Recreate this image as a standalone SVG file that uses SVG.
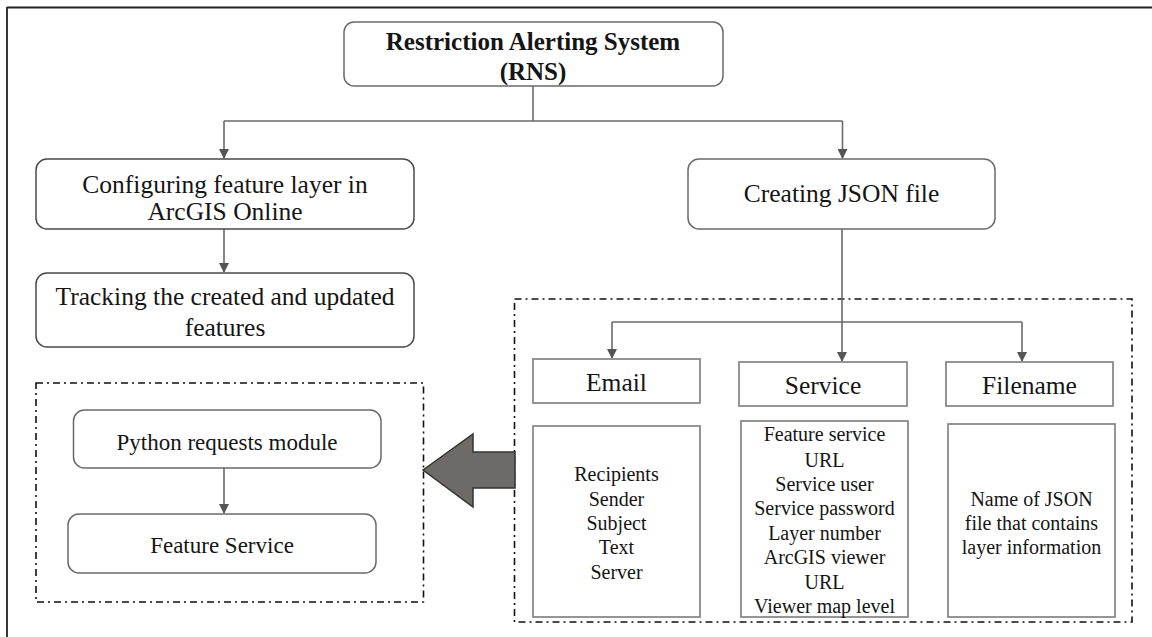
<svg xmlns="http://www.w3.org/2000/svg" width="1152" height="637" viewBox="0 0 1152 637">
<style>
.t{font-family:"Liberation Serif","Times New Roman",serif;fill:#151515;text-anchor:middle}
.big{font-size:25.5px}
.mid{font-size:23px}
.sm{font-size:20px}
.b{font-weight:bold;font-size:25px}
.rb{fill:#fff;stroke:#4a4a4a;stroke-width:1.5}
.rg{fill:#fff;stroke:#6a6a6a;stroke-width:1.5}
.sq{fill:#fff;stroke:#8a8a8a;stroke-width:1.8}
.dd{fill:none;stroke:#111;stroke-width:1.6;stroke-dasharray:7 4 2 4}
.c{fill:none;stroke:#6a6a6a;stroke-width:1.6}
</style>
<defs>
<marker id="ah" markerWidth="10" markerHeight="10" refX="9" refY="5" orient="auto" markerUnits="userSpaceOnUse">
<path d="M0,0 L10,5 L0,10 Z" fill="#555"/>
</marker>
</defs>
<rect width="1152" height="637" fill="#fff"/>
<g id="frame">
<line x1="7" y1="7.5" x2="1152" y2="7.5" stroke="#222" stroke-width="1.8"/>
<line x1="7" y1="7" x2="7" y2="637" stroke="#222" stroke-width="1.8"/>
</g>
<g id="groups">
<rect x="36" y="383" width="387.5" height="219" class="dd"/>
<rect x="514.5" y="299" width="617.5" height="323" class="dd"/>
</g>
<g id="connectors">
<path d="M533,86 V121 M224,121 H842.5" class="c"/>
<path d="M224,121 V158" class="c" marker-end="url(#ah)"/>
<path d="M842.5,121 V158" class="c" marker-end="url(#ah)"/>
<path d="M224,229 V272" class="c" marker-end="url(#ah)"/>
<path d="M842,229 V361" class="c" marker-end="url(#ah)"/>
<path d="M612,322 H1022" class="c"/>
<path d="M612,322 V358" class="c" marker-end="url(#ah)"/>
<path d="M1022,322 V361" class="c" marker-end="url(#ah)"/>
<path d="M224,468 V513" class="c" marker-end="url(#ah)"/>
</g>
<g id="n-rns">
<rect x="344" y="22" width="379" height="64" rx="10" class="rg"/>
<text x="533" y="50" class="t b">Restriction Alerting System</text>
<text x="533" y="80" class="t b">(RNS)</text>
</g>
<g id="n-config">
<rect x="36" y="159" width="378" height="70" rx="11" class="rb"/>
<text x="225" y="193" class="t big">Configuring feature layer in</text>
<text x="225" y="220" class="t big">ArcGIS Online</text>
</g>
<g id="n-json">
<rect x="688" y="159" width="307" height="70" rx="11" class="rg"/>
<text x="841.5" y="202" class="t big">Creating JSON file</text>
</g>
<g id="n-tracking">
<rect x="36" y="273" width="378" height="74" rx="11" class="rb"/>
<text x="225" y="305" class="t big">Tracking the created and updated</text>
<text x="225" y="336" class="t big">features</text>
</g>
<g id="n-python">
<rect x="73.5" y="410" width="307.5" height="58" rx="11" class="rg"/>
<text x="227" y="450" class="t mid">Python requests module</text>
</g>
<g id="n-feature">
<rect x="68" y="514" width="308" height="59" rx="11" class="rg"/>
<text x="222" y="553" class="t mid">Feature Service</text>
</g>
<g id="n-email">
<rect x="533" y="359" width="167" height="44" class="sq"/>
<text x="616.5" y="391" class="t big">Email</text>
</g>
<g id="n-service">
<rect x="739" y="362" width="168" height="44" class="sq"/>
<text x="823" y="394" class="t big">Service</text>
</g>
<g id="n-filename">
<rect x="946" y="362" width="167" height="44" class="sq"/>
<text x="1029.5" y="394" class="t big">Filename</text>
</g>
<g id="n-email-detail">
<rect x="533" y="426" width="167" height="191" class="sq"/>
<text x="616.5" y="481" class="t sm">Recipients</text>
<text x="616.5" y="506" class="t sm">Sender</text>
<text x="616.5" y="530" class="t sm">Subject</text>
<text x="616.5" y="554" class="t sm">Text</text>
<text x="616.5" y="579" class="t sm">Server</text>
</g>
<g id="n-service-detail">
<rect x="741" y="421" width="167" height="196" class="sq"/>
<text x="824.5" y="441" class="t sm">Feature service</text>
<text x="824.5" y="467" class="t sm">URL</text>
<text x="824.5" y="491" class="t sm">Service user</text>
<text x="824.5" y="515" class="t sm">Service password</text>
<text x="824.5" y="540" class="t sm">Layer number</text>
<text x="824.5" y="564" class="t sm">ArcGIS viewer</text>
<text x="824.5" y="589" class="t sm">URL</text>
<text x="824.5" y="613" class="t sm">Viewer map level</text>
</g>
<g id="n-filename-detail">
<rect x="948" y="424" width="167" height="193" class="sq"/>
<text x="1031.5" y="506" class="t sm">Name of JSON</text>
<text x="1031.5" y="530" class="t sm">file that contains</text>
<text x="1031.5" y="554" class="t sm">layer information</text>
</g>
<g id="big-arrow">
<polygon points="423,470 473,434 473,452 515,452 515,488 473,488 473,507" fill="#6e6a68" stroke="#333" stroke-width="1.5" stroke-linejoin="miter"/>
</g>
</svg>
